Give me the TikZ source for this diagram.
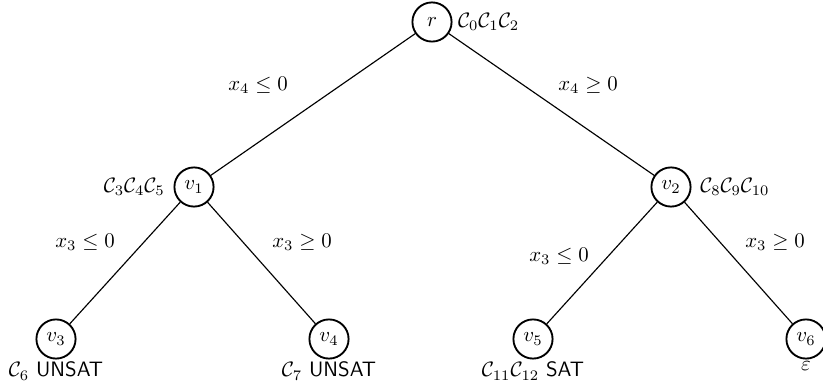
\documentclass[tikz,border=0pt]{standalone}
\usepackage{amsmath,amssymb}
\usepackage{tikz}
\usetikzlibrary{positioning}
\tikzset{
  treenode/.style={draw,circle,line width=0.9pt,minimum size=18.8pt,inner sep=0pt},
  treeedge/.style={draw,line width=0.55pt},
  clauselabel/.style={inner sep=1pt},
  branchlabel/.style={inner sep=1pt}
}
\begin{document}
\begin{tikzpicture}[x=0.48pt,y=-0.48pt]
  \useasboundingbox (0,0) rectangle (823,389);
  % search tree
  \node[treenode] (r) at (432,22) {$r$};
  \node[treenode] (v1) at (194,187) {$v_1$};
  \node[treenode] (v2) at (671,187) {$v_2$};
  \node[treenode] (v3) at (56,339) {$v_3$};
  \node[treenode] (v4) at (329,339) {$v_4$};
  \node[treenode] (v5) at (533,339) {$v_5$};
  \node[treenode] (v6) at (806,339) {$v_6$};
  \draw[treeedge] (r) -- (v1);
  \draw[treeedge] (r) -- (v2);
  \draw[treeedge] (v1) -- (v3);
  \draw[treeedge] (v1) -- (v4);
  \draw[treeedge] (v2) -- (v5);
  \draw[treeedge] (v2) -- (v6);
  % branching constraints
  \node[branchlabel] (b1) at (258,85) {$x_4 \leq 0$};
  \node[branchlabel] (b2) at (588,85) {$x_4 \geq 0$};
  \node[branchlabel] (b3) at (85,242) {$x_3 \leq 0$};
  \node[branchlabel] (b4) at (302,242) {$x_3 \geq 0$};
  \node[branchlabel] (b5) at (559,256) {$x_3 \leq 0$};
  \node[branchlabel] (b6) at (775,242) {$x_3 \geq 0$};
  % clauses at the nodes
  \node[clauselabel,right=1.5pt of r] (cr) {$\mathcal{C}_0\mathcal{C}_1\mathcal{C}_2$};
  \node[clauselabel,left=3pt of v1] (c1) {$\mathcal{C}_3\mathcal{C}_4\mathcal{C}_5$};
  \node[clauselabel,right=3pt of v2] (c2) {$\mathcal{C}_8\mathcal{C}_9\mathcal{C}_{10}$};
  \node[clauselabel,below=0pt of v3] (c3) {$\mathcal{C}_6$ \textsf{UNSAT}};
  \node[clauselabel,below=0pt of v4] (c4) {$\mathcal{C}_7$ \textsf{UNSAT}};
  \node[clauselabel,below=0pt of v5] (c5) {$\mathcal{C}_{11}\mathcal{C}_{12}$ \textsf{SAT}};
  \node[clauselabel,below=0pt of v6] (c6) {$\varepsilon$};
\end{tikzpicture}
\end{document}
